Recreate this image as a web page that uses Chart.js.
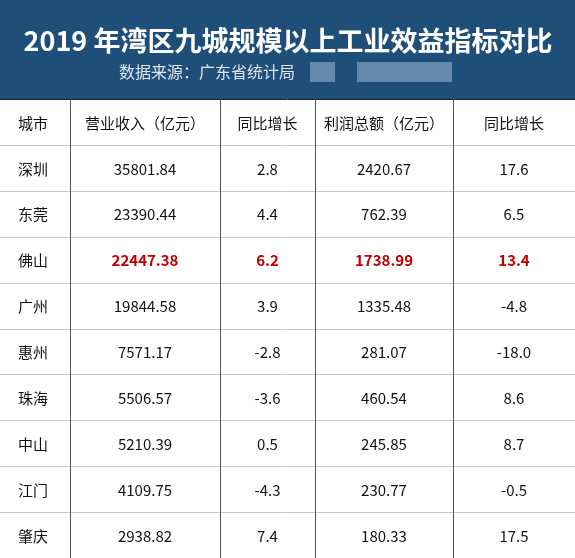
<!DOCTYPE html>
<html><head><meta charset="utf-8">
<script src="https://cdn.jsdelivr.net/npm/chart.js@4"></script>
<style>html,body{margin:0;padding:0;background:#fff}#w{width:575px;height:558px}</style>
</head><body><div id="w"><canvas id="c"></canvas></div>
<script>
const title = "2019 年湾区九城规模以上工业效益指标对比";
const subtitle = "数据来源：广东省统计局";
const headers = ["城市","营业收入（亿元）","同比增长","利润总额（亿元）","同比增长"];
const cities = ["深圳","东莞","佛山","广州","惠州","珠海","中山","江门","肇庆"];
const revenue = ["35801.84","23390.44","22447.38","19844.58","7571.17","5506.57","5210.39","4109.75","2938.82"];
const revenueGrowth = ["2.8","4.4","6.2","3.9","-2.8","-3.6","0.5","-4.3","7.4"];
const profit = ["2420.67","762.39","1738.99","1335.48","281.07","460.54","245.85","230.77","180.33"];
const profitGrowth = ["17.6","6.5","13.4","-4.8","-18.0","8.6","8.7","-0.5","17.5"];
const highlight = "佛山";

const colEdges = [0,70,220,315,453,575];
const colCenters = colEdges.slice(0,-1).map((e,i)=>(e+colEdges[i+1])/2);
const rows = [headers].concat(cities.map((c,i)=>[c,revenue[i],revenueGrowth[i],profit[i],profitGrowth[i]]));
const pts = [];
rows.forEach((r,ri)=>r.forEach((t,ci)=>pts.push({x:colCenters[ci],y:ri,t,ri,ci})));

const FONT = '"Noto Sans CJK SC","Noto Sans",sans-serif';
const tablePlugin = {
  id:'tbl',
  beforeDraw(ch){
    const {ctx} = ch, xs=ch.scales.x, ys=ch.scales.y;
    ctx.save();
    ctx.fillStyle='#1f4e79'; ctx.fillRect(0,0,575,99);
    ctx.fillStyle='#fff'; ctx.font='bold 27px '+FONT; ctx.textAlign='center'; ctx.textBaseline='middle';
    ctx.fillText(title,288,41);
    ctx.fillStyle='#dfe6ee'; ctx.font='16px '+FONT; ctx.textAlign='left';
    ctx.fillText(subtitle,119,72);
    ctx.fillStyle='rgba(150,175,205,0.6)';
    ctx.fillRect(310,62,25,20); ctx.fillRect(357,62,95,20);
    ctx.strokeStyle='#222'; ctx.lineWidth=1;
    ctx.beginPath(); ctx.moveTo(0,99.5); ctx.lineTo(575,99.5); ctx.stroke();
    ctx.strokeStyle='#c8c8c8';
    for(let r=1;r<rows.length;r++){const y=Math.round((ys.getPixelForValue(r-1)+ys.getPixelForValue(r))/2)+0.5;
      ctx.beginPath();ctx.moveTo(0,y);ctx.lineTo(575,y);ctx.stroke();}
    ctx.strokeStyle='#555';
    colEdges.slice(1,-1).forEach(e=>{const x=Math.round(xs.getPixelForValue(e))+0.5;
      ctx.beginPath();ctx.moveTo(x,99);ctx.lineTo(x,558);ctx.stroke();});
    ctx.restore();
  },
  afterDatasetsDraw(ch){
    const {ctx}=ch; const meta=ch.getDatasetMeta(0);
    ctx.save(); ctx.textBaseline='middle';
    meta.data.forEach((el,i)=>{const p=pts[i];
      const hi = rows[p.ri][0]===highlight && p.ci>0;
      ctx.fillStyle = hi?'#c00000':'#111';
      ctx.font=(hi?'bold ':'')+'15px '+FONT;
      let x=el.x; if(p.ci===0){ctx.textAlign='left'; x=colEdges[0]+18;} else ctx.textAlign='center';
      ctx.fillText(p.t,x,el.y+1);});
    ctx.restore();
  }
};
new Chart(document.getElementById('c'),{
  type:'scatter',
  data:{datasets:[{data:pts,pointRadius:0,pointHoverRadius:0}]},
  options:{responsive:true,maintainAspectRatio:false,animation:false,
    layout:{padding:{top:99,left:0,right:0,bottom:0}},
    plugins:{legend:{display:false},tooltip:{enabled:false}},
    scales:{x:{type:'linear',min:0,max:575,display:false},
            y:{type:'linear',min:-0.5,max:rows.length-0.5,reverse:true,display:false}}},
  plugins:[tablePlugin]
});
</script></body></html>
